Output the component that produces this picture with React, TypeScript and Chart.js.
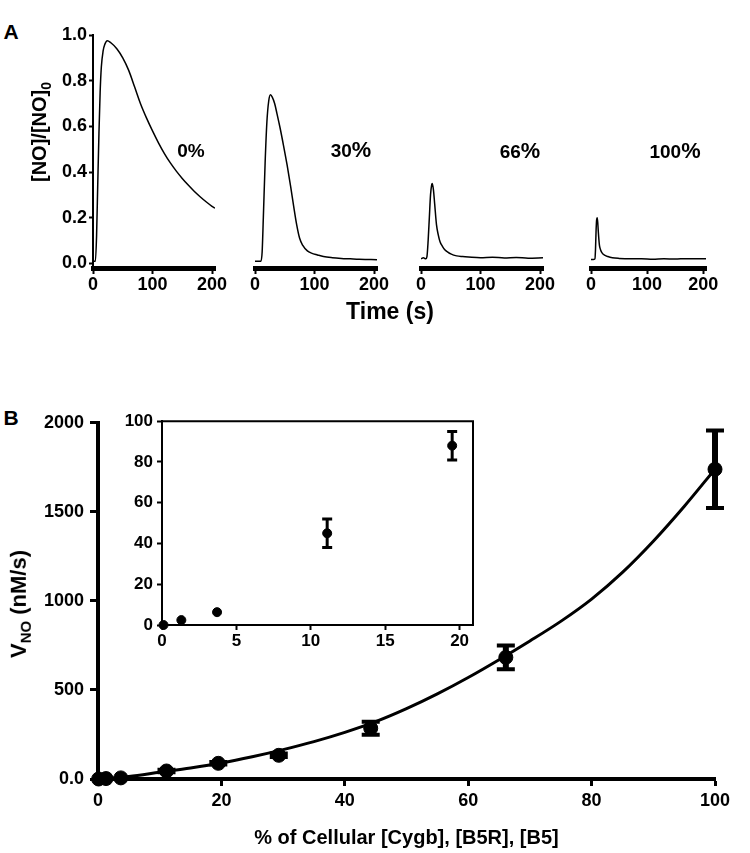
import React, { useEffect, useRef } from "react";
import { Chart, registerables } from "chart.js";

Chart.register(...registerables);

const FONT = "'Liberation Sans', Arial, Helvetica, sans-serif";

// ---------- Panel A data (time in s, [NO]/[NO]0) ----------
const timeTicks = [0, 100, 200];
const ratioTicks = [0, 0.2, 0.4, 0.6, 0.8, 1.0];

const t0 = [0, 4, 6, 8, 10, 12, 14, 17, 20, 24, 30, 40, 50, 60, 70, 80, 90, 100, 110, 120, 130, 140, 150, 160, 170, 180, 190, 200, 205];
const v0 = [0.01, 0.01, 0.12, 0.35, 0.57, 0.75, 0.86, 0.93, 0.96, 0.975, 0.966, 0.94, 0.9, 0.845, 0.772, 0.698, 0.636, 0.58, 0.528, 0.481, 0.44, 0.404, 0.372, 0.343, 0.316, 0.292, 0.27, 0.25, 0.242];

const t30 = [0, 5, 10, 12, 14, 17, 20, 23, 26, 29, 33, 37, 42, 48, 54, 60, 65, 70, 75, 80, 88, 95, 105, 115, 130, 145, 160, 175, 190, 205];
const v30 = [0.01, 0.01, 0.01, 0.05, 0.2, 0.44, 0.62, 0.71, 0.738, 0.728, 0.7, 0.655, 0.595, 0.515, 0.43, 0.335, 0.25, 0.17, 0.11, 0.08, 0.055, 0.045, 0.037, 0.03, 0.025, 0.022, 0.02, 0.018, 0.017, 0.016];

const t66 = [0, 4, 8, 10, 12, 14, 16, 18, 19, 21, 23, 26, 29, 32, 36, 40, 45, 50, 60, 70, 80, 100, 120, 140, 160, 180, 205];
const v66 = [0.02, 0.025, 0.02, 0.03, 0.1, 0.2, 0.3, 0.345, 0.35, 0.32, 0.26, 0.17, 0.125, 0.095, 0.075, 0.06, 0.05, 0.042, 0.033, 0.03, 0.028, 0.025, 0.027, 0.024, 0.026, 0.023, 0.025];

const t100 = [0, 4, 7, 8, 9, 10, 11, 12, 13, 15, 17, 20, 25, 30, 38, 50, 70, 90, 110, 130, 150, 170, 190, 205];
const v100 = [0.017, 0.017, 0.02, 0.06, 0.14, 0.19, 0.2, 0.18, 0.14, 0.08, 0.06, 0.045, 0.035, 0.03, 0.025, 0.022, 0.02, 0.02, 0.018, 0.02, 0.019, 0.021, 0.02, 0.02];

const traceLabels = ["0%", "30%", "66%", "100%"];

// ---------- Panel B data ----------
const cellPct = [0.1, 1.3, 3.7, 11.1, 19.5, 29.3, 44.2, 66.1, 100];
const vNO = [0, 2.4, 6.3, 45, 88, 133, 285, 683, 1739];
const vNOErr = [0, 0, 0, 7, 7, 10, 37, 67, 218];

const fitX = [0, 5, 10, 15, 20, 25, 30, 35, 40, 45, 50, 55, 60, 65, 70, 75, 80, 85, 90, 95, 100];
const fitY = [0, 14, 38, 62, 90, 125, 165, 210, 262, 322, 395, 478, 570, 670, 775, 885, 1010, 1160, 1335, 1530, 1740];

const mainXTicks = [0, 20, 40, 60, 80, 100];
const mainYTicks = [0, 500, 1000, 1500, 2000];

const insetX = [0.1, 1.3, 3.7, 11.1, 19.5];
const insetY = [0, 2.4, 6.3, 45, 88];
const insetErr = [0, 0, 0, 7, 7];
const insetXTicks = [0, 5, 10, 15, 20];
const insetYTicks = [0, 20, 40, 60, 80, 100];

// ---------- layout helpers ----------
type Pad = { l: number; t: number; r: number; b: number };
function makeBox(l: number, t: number, r: number, b: number, yw: number, xh: number, pad: Pad) {
  return {
    left: l - yw - pad.l,
    top: t - pad.t,
    width: r - l + yw + pad.l + pad.r,
    height: b - t + xh + pad.t + pad.b,
    yw,
    xh,
    padding: { left: pad.l, top: pad.t, right: pad.r, bottom: pad.b },
  };
}

const padA: Pad = { l: 12, t: 14, r: 22, b: 4 };
const boxes = [
  makeBox(93, 35, 215, 268, 40, 30, padA),
  makeBox(255, 35, 377, 268, 0, 30, padA),
  makeBox(421, 35, 543, 268, 0, 30, padA),
  makeBox(591, 35, 706, 268, 0, 30, padA),
  makeBox(98, 420, 715, 779, 60, 71, { l: 10, t: 14, r: 26, b: 2 }),
  makeBox(162, 419, 473, 625, 40, 30, { l: 8, t: 12, r: 12, b: 2 }),
];

const setTicks = (vals: number[]) => (s: any) => {
  s.ticks = vals.map((v) => ({ value: v }));
};

function errorPlugin(xs: number[], ys: number[], errs: number[], lw: number, capW: number, capT: number) {
  return {
    id: "errBars",
    afterDatasetsDraw(chart: any) {
      const ctx = chart.ctx;
      const sx = chart.scales.x;
      const sy = chart.scales.y;
      ctx.save();
      ctx.strokeStyle = "#000";
      ctx.lineCap = "butt";
      errs.forEach((e, i) => {
        if (!e) return;
        const px = sx.getPixelForValue(xs[i]);
        const top = sy.getPixelForValue(ys[i] + e);
        const bot = sy.getPixelForValue(ys[i] - e);
        ctx.lineWidth = lw;
        ctx.beginPath();
        ctx.moveTo(px, top);
        ctx.lineTo(px, bot);
        ctx.stroke();
        ctx.lineWidth = capT;
        ctx.beginPath();
        ctx.moveTo(px - capW / 2, top);
        ctx.lineTo(px + capW / 2, top);
        ctx.moveTo(px - capW / 2, bot);
        ctx.lineTo(px + capW / 2, bot);
        ctx.stroke();
      });
      ctx.restore();
    },
  };
}

const frameTopRight = {
  id: "frameTR",
  afterDraw(chart: any) {
    const { ctx, chartArea: a } = chart;
    ctx.save();
    ctx.strokeStyle = "#000";
    ctx.lineWidth = 2;
    ctx.beginPath();
    ctx.moveTo(a.left, a.top);
    ctx.lineTo(a.right, a.top);
    ctx.lineTo(a.right, a.bottom);
    ctx.stroke();
    ctx.restore();
  },
};

const base = (padding: any) => ({
  animation: false as const,
  responsive: false,
  devicePixelRatio: 1,
  layout: { padding },
  plugins: { legend: { display: false }, tooltip: { enabled: false } },
});

function traceConfig(t: number[], v: number[], idx: number) {
  const bx = boxes[idx];
  const showY = idx === 0;
  return {
    type: "line",
    data: {
      datasets: [
        {
          data: t.map((x, i) => ({ x, y: v[i] })),
          borderColor: "#000",
          borderWidth: 1.5,
          pointRadius: 0,
          cubicInterpolationMode: "monotone",
          fill: false,
        },
      ],
    },
    options: {
      ...base(bx.padding),
      scales: {
        x: {
          type: "linear",
          min: 0,
          max: 205,
          afterBuildTicks: setTicks(timeTicks),
          afterFit: (s: any) => {
            s.height = bx.xh;
          },
          ticks: { font: { size: 18, weight: "bold" }, color: "#000", padding: 0, maxRotation: 0, autoSkip: false },
          grid: { drawOnChartArea: false, tickLength: 6, tickWidth: 2, tickColor: "#000" },
          border: { color: "#000", width: 5 },
        },
        y: {
          type: "linear",
          display: showY,
          min: -0.02,
          max: 1.0,
          afterBuildTicks: setTicks(ratioTicks),
          afterFit: (s: any) => {
            s.width = bx.yw;
          },
          ticks: {
            font: { size: 18, weight: "bold" },
            color: "#000",
            padding: 2,
            callback: (val: any) => Number(val).toFixed(1),
          },
          grid: { drawOnChartArea: false, tickLength: 4, tickWidth: 2, tickColor: "#000" },
          border: { color: "#000", width: 2 },
        },
      },
    },
  };
}

function mainConfig() {
  const bx = boxes[4];
  return {
    type: "line",
    data: {
      datasets: [
        {
          data: fitX.map((x, i) => ({ x, y: fitY[i] })),
          borderColor: "#000",
          borderWidth: 3,
          pointRadius: 0,
          cubicInterpolationMode: "monotone",
          fill: false,
        },
        {
          data: cellPct.map((x, i) => ({ x, y: vNO[i] })),
          showLine: false,
          pointRadius: 7,
          pointBackgroundColor: "#000",
          pointBorderColor: "#000",
          backgroundColor: "#000",
          borderColor: "#000",
          clip: false,
        },
      ],
    },
    options: {
      ...base(bx.padding),
      scales: {
        x: {
          type: "linear",
          min: 0,
          max: 100,
          afterBuildTicks: setTicks(mainXTicks),
          afterFit: (s: any) => {
            s.height = bx.xh;
          },
          ticks: { font: { size: 18, weight: "bold" }, color: "#000", padding: 4, maxRotation: 0, autoSkip: false },
          grid: { drawOnChartArea: false, tickLength: 7, tickWidth: 3, tickColor: "#000" },
          border: { color: "#000", width: 4 },
          title: {
            display: true,
            text: "% of Cellular [Cygb], [B5R], [B5]",
            font: { size: 20, weight: "bold" },
            color: "#000",
            padding: { top: 0, bottom: 0 },
          },
        },
        y: {
          type: "linear",
          min: 0,
          max: 2000,
          afterBuildTicks: setTicks(mainYTicks),
          afterFit: (s: any) => {
            s.width = bx.yw;
          },
          ticks: {
            font: { size: 18, weight: "bold" },
            color: "#000",
            padding: 6,
            callback: (val: any) => (Number(val) === 0 ? "0.0" : String(val)),
          },
          grid: { drawOnChartArea: false, tickLength: 8, tickWidth: 3, tickColor: "#000" },
          border: { color: "#000", width: 4 },
        },
      },
    },
    plugins: [errorPlugin(cellPct, vNO, vNOErr, 6, 18, 4)],
  };
}

function insetConfig() {
  const bx = boxes[5];
  return {
    type: "line",
    data: {
      datasets: [
        {
          data: insetX.map((x, i) => ({ x, y: insetY[i] })),
          showLine: false,
          pointRadius: 4.5,
          pointBackgroundColor: "#000",
          pointBorderColor: "#000",
          clip: false,
        },
      ],
    },
    options: {
      ...base(bx.padding),
      scales: {
        x: {
          type: "linear",
          min: 0,
          max: 20.9,
          afterBuildTicks: setTicks(insetXTicks),
          afterFit: (s: any) => {
            s.height = bx.xh;
          },
          ticks: { font: { size: 17, weight: "bold" }, color: "#000", padding: 1, maxRotation: 0, autoSkip: false },
          grid: { drawOnChartArea: false, tickLength: 5, tickWidth: 2, tickColor: "#000" },
          border: { color: "#000", width: 2 },
        },
        y: {
          type: "linear",
          min: 0,
          max: 100,
          afterBuildTicks: setTicks(insetYTicks),
          afterFit: (s: any) => {
            s.width = bx.yw;
          },
          ticks: { font: { size: 17, weight: "bold" }, color: "#000", padding: 4 },
          grid: { drawOnChartArea: false, tickLength: 5, tickWidth: 2, tickColor: "#000" },
          border: { color: "#000", width: 2 },
        },
      },
    },
    plugins: [errorPlugin(insetX, insetY, insetErr, 3, 10, 3), frameTopRight],
  };
}

const textBase: React.CSSProperties = {
  position: "absolute",
  fontFamily: FONT,
  fontWeight: "bold",
  color: "#000",
  lineHeight: 1,
  whiteSpace: "nowrap",
  transform: "translate(-50%, -50%)",
};

function Label(props: { x: number; y: number; size: number; rotate?: boolean; children: React.ReactNode }) {
  const { x, y, size, rotate, children } = props;
  return (
    <div
      style={{
        ...textBase,
        left: x,
        top: y,
        fontSize: size,
        transform: rotate ? "translate(-50%, -50%) rotate(-90deg)" : textBase.transform,
      }}
    >
      {children}
    </div>
  );
}

function Pct({ text }: { text: string }) {
  const num = text.replace("%", "");
  return (
    <span>
      {num}
      <span style={{ fontSize: "1.15em" }}>%</span>
    </span>
  );
}

export default function App() {
  const refs = useRef<(HTMLCanvasElement | null)[]>([]);

  useEffect(() => {
    const configs: any[] = [
      traceConfig(t0, v0, 0),
      traceConfig(t30, v30, 1),
      traceConfig(t66, v66, 2),
      traceConfig(t100, v100, 3),
      mainConfig(),
      insetConfig(),
    ];
    Chart.defaults.font.family = FONT;
    Chart.defaults.color = "#000";
    const charts = configs.map((c, i) => new Chart(refs.current[i] as HTMLCanvasElement, c));
    return () => charts.forEach((c) => c.destroy());
  }, []);

  return (
    <div style={{ position: "absolute", left: 0, top: 0, width: 750, height: 853, background: "#fff", overflow: "hidden" }}>
      {boxes.map((b, i) => (
        <canvas
          key={i}
          ref={(el) => {
            refs.current[i] = el;
          }}
          width={b.width}
          height={b.height}
          style={{ position: "absolute", left: b.left, top: b.top, width: b.width, height: b.height }}
        />
      ))}
      <Label x={11} y={31} size={21}>A</Label>
      <Label x={11} y={417} size={21}>B</Label>
      <Label x={41} y={132} size={20} rotate>
        [NO]/[NO]<sub style={{ fontSize: "0.7em" }}>0</sub>
      </Label>
      <Label x={191} y={150} size={19}>{traceLabels[0]}</Label>
      <Label x={351} y={150} size={19}><Pct text={traceLabels[1]} /></Label>
      <Label x={520} y={151} size={19}><Pct text={traceLabels[2]} /></Label>
      <Label x={675} y={151} size={19}><Pct text={traceLabels[3]} /></Label>
      <Label x={390} y={311} size={23}>Time (s)</Label>
      <Label x={21} y={604} size={22} rotate>
        V<sub style={{ fontSize: "0.68em" }}>NO</sub> (nM/s)
      </Label>
    </div>
  );
}
